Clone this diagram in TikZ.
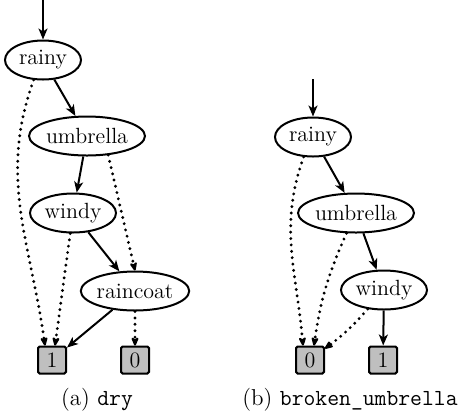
\documentclass[tikz,border=0pt]{standalone}
\usetikzlibrary{shapes.geometric,arrows.meta}

\begin{document}
\begin{tikzpicture}[x=0.5pt,y=-0.5pt,
  font=\fontsize{11}{13}\selectfont,
  var/.style={ellipse,draw,line width=1pt,inner sep=0pt,minimum width=38pt,minimum height=19.5pt},
  leaf/.style={rectangle,draw,line width=1pt,fill=black!25,inner sep=0pt,minimum width=14pt,minimum height=13.5pt,rounded corners=0.8pt},
  hi/.style={line width=1pt,-{Stealth[length=5.5pt,width=4.5pt,inset=1.5pt]}},
  lo/.style={line width=1.6pt,line cap=round,dash pattern=on 0pt off 3.2pt,-{Stealth[length=5.5pt,width=4.5pt,inset=1.5pt,line width=1pt,round]}}]
\useasboundingbox (0,0) rectangle (461,414);

% (a) dry
\coordinate (sa) at (43,0);
\node[var] (ra) at (43,60) {rainy};
\node[var,minimum width=57pt] (ua) at (87,136) {umbrella};
\node[var,minimum width=43pt] (wa) at (73,213) {windy};
\node[var,minimum width=54pt] (ca) at (135,291) {raincoat};
\node[leaf] (onea) at (52,360) {1};
\node[leaf] (zeroa) at (135,360) {0};

\draw[hi] (sa) -- (ra);
\draw[hi] (ra) -- (ua);
\draw[hi] (ua) -- (wa);
\draw[hi] (wa) -- (ca);
\draw[hi] (ca) -- (onea);
\draw[lo] (ra.-115) to[out=250,in=98] ([xshift=-3.5pt]onea.north);
\draw[lo] (ua.-42) -- (ca.north);
\draw[lo] (wa) -- ([xshift=1.5pt]onea.north);
\draw[lo] (ca) -- (zeroa);

\node (capa) at (97,400) {\fontsize{11.5}{13}\selectfont(a) \texttt{dry}};

% (b) broken_umbrella
\coordinate (sb) at (313,79);
\node[var] (rb) at (313,137) {rainy};
\node[var,minimum width=57pt] (ub) at (356,213) {umbrella};
\node[var,minimum width=43pt] (wb) at (384,290) {windy};
\node[leaf] (zerob) at (310,360) {0};
\node[leaf] (oneb) at (383,360) {1};

\draw[hi] (sb) -- (rb);
\draw[hi] (rb) -- (ub);
\draw[hi] (ub) -- (wb);
\draw[hi] (wb) -- (oneb);
\draw[lo] (rb.-115) to[out=250,in=95] ([xshift=-3.5pt]zerob.north);
\draw[lo] (ub.-115) to[bend right=8] ([xshift=2pt]zerob.north);
\draw[lo] (wb) to[bend left=6] (zerob);

\node (capb) at (350,400) {\fontsize{11.5}{13}\selectfont(b) \texttt{broken\_umbrella}};
\end{tikzpicture}
\end{document}
